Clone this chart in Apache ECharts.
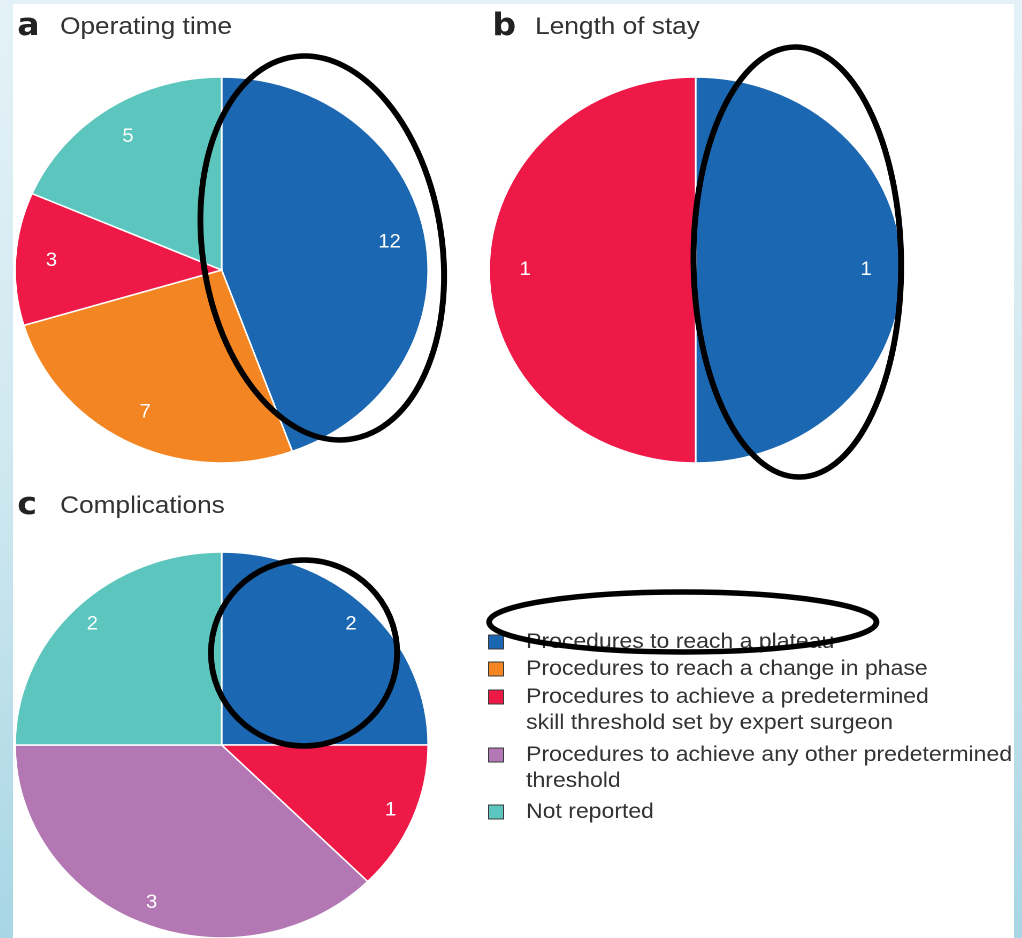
<!DOCTYPE html>
<html>
<head>
<meta charset="utf-8">
<script src="https://cdn.jsdelivr.net/npm/echarts@6/dist/echarts.min.js"></script>
<style>
  html, body {
    margin: 0; padding: 0; width: 1022px; height: 938px; overflow: hidden;
    background: linear-gradient(180deg, #e4f2f7 0%, #cfe8f0 50%, #a8d6e4 100%);
  }
  #panel {
    position: absolute; left: 13px; top: 4px; width: 1001px; height: 934px;
    background: #fff; overflow: hidden;
  }
  /* the figure is drawn slightly wider than tall */
  #chart {
    width: 936px; height: 934px;
    transform: scaleX(1.07); transform-origin: 0 0;
  }
</style>
</head>
<body>
<div id="panel"><div id="chart"></div></div>
<script>
// Endpoint categories (legend order) and how each is shown in the legend
const categories = [
  'Procedures to reach a plateau',
  'Procedures to reach a change in phase',
  'Procedures to achieve a predetermined skill threshold set by expert surgeon',
  'Procedures to achieve any other predetermined threshold',
  'Not reported'
];
const legendLabels = [
  'Procedures to reach a plateau',
  'Procedures to reach a change in phase',
  'Procedures to achieve a predetermined\nskill threshold set by expert surgeon',
  'Procedures to achieve any other predetermined\nthreshold',
  'Not reported'
];

// Number of studies per category, for each outcome
const operatingTime = [12, 7, 3, 0, 5];
const lengthOfStay  = [1, 0, 1, 0, 0];
const complications = [2, 0, 1, 3, 2];

const panelLetters = ['a', 'b', 'c'];
const panelTitles  = ['Operating time', 'Length of stay', 'Complications'];

// ---- styling / layout ----
const palette = ['#1b67b2', '#f38622', '#ee1947', '#b378b3', '#5cc6be'];
const FONT = '"Liberation Sans", Arial, Helvetica, sans-serif';
const R = 193;
const pieCenters = [[195, 266], [638, 266], [195, 741]];
const labelRing = [0.62, 0.62, 0.74];   // inner edge of the ring that carries the value labels
const titlePos = [[4, 8], [448, 8], [4, 487]];

function sliceData(values, withColor) {
  return categories
    .map((name, i) => withColor
      ? { name, value: values[i], itemStyle: { color: palette[i] } }
      : { name, value: values[i] })
    .filter(d => d.value > 0);
}

function pieSeries(values, idx) {
  const center = pieCenters[idx];
  return [
    {
      type: 'pie', center, radius: [0, R], startAngle: 90, clockwise: true,
      silent: true, animation: false,
      itemStyle: { borderColor: '#ffffff', borderWidth: 1.5 },
      label: { show: false }, labelLine: { show: false },
      data: sliceData(values, true)
    },
    {
      type: 'pie', center, radius: [labelRing[idx] * R, R], startAngle: 90, clockwise: true,
      silent: true, animation: false, legendHoverLink: false,
      itemStyle: { color: 'rgba(0,0,0,0)', borderWidth: 0 },
      label: {
        show: true, position: 'inside', formatter: '{c}',
        color: '#ffffff', fontSize: 19, fontFamily: FONT
      },
      labelLine: { show: false },
      data: sliceData(values, false)
    }
  ];
}

// legend rows: bottom edge of each entry (single line rows end 20px under the icon top,
// two-line rows 46px, as the first text line is kept level with the swatch)
const CH = 934;
const legendIconTops = [631, 658, 686, 744, 801];
const legends = categories.map((name, i) => {
  const twoLines = legendLabels[i].indexOf('\n') >= 0;
  return {
    data: [{ name, icon: 'rect' }],
    orient: 'vertical',
    left: 444,
    bottom: CH - (legendIconTops[i] + (twoLines ? 46 : 20)),
    padding: 0,
    itemWidth: 14, itemHeight: 14,
    selectedMode: false,
    itemStyle: { borderColor: '#3a3a3a', borderWidth: 1 },
    formatter: () => (twoLines ? '\n' : '') + legendLabels[i],
    textStyle: {
      fontSize: 21.5, fontFamily: FONT, color: '#333333',
      lineHeight: 26, padding: [0, 0, 0, 16]
    }
  };
});

const titles = panelTitles.map((t, i) => ({
  text: `{l|${panelLetters[i]}}{t|${t}}`,
  left: titlePos[i][0], top: titlePos[i][1], padding: 0,
  textStyle: {
    fontWeight: 'normal',
    rich: {
      l: { fontSize: 31, fontWeight: 900, fontFamily: '"DejaVu Sans", ' + FONT, color: '#222222', width: 40, lineHeight: 30 },
      t: { fontSize: 24.5, fontWeight: 'normal', fontFamily: FONT, color: '#333333', lineHeight: 30 }
    }
  }
}));

// hand-drawn highlight rings
const highlight = (x, y, rx, ry, rotation) => ({
  type: 'ellipse', x, y, rotation, silent: true, z: 100,
  shape: { cx: 0, cy: 0, rx, ry },
  style: { fill: 'none', stroke: '#000000', lineWidth: 5.5 }
});

const chart = echarts.init(document.getElementById('chart'), null, { renderer: 'canvas', devicePixelRatio: 2 });
chart.setOption({
  animation: false,
  backgroundColor: '#ffffff',
  title: titles,
  legend: legends,
  series: [
    ...pieSeries(operatingTime, 0),
    ...pieSeries(lengthOfStay, 1),
    ...pieSeries(complications, 2)
  ],
  graphic: [
    highlight(289, 244, 112, 193, 0.13),
    highlight(733, 258, 97, 215, 0.01),
    highlight(272, 649, 87, 93, 0),
    highlight(626, 618, 181, 30, 0)
  ]
});
</script>
</body>
</html>
